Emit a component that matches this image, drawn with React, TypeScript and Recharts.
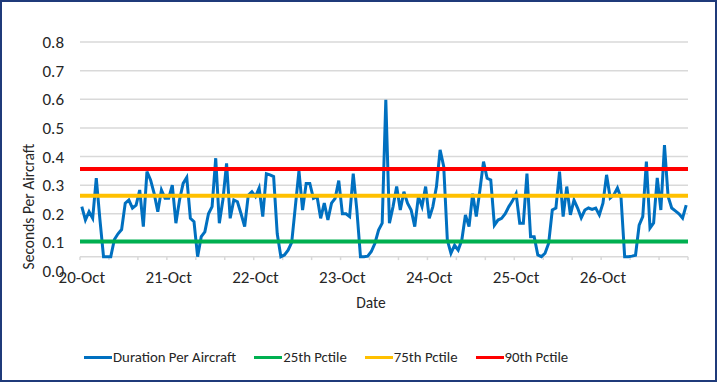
import React from "react";
import { LineChart, Line, XAxis, YAxis, CartesianGrid, ReferenceLine } from "recharts";

// Hourly duration per aircraft, 20-Oct 00:00 .. 26-Oct 23:00 (168 points)
const durations: number[] = [
  0.225, 0.178, 0.207, 0.184, 0.324, 0.18, 0.05, 0.05, 0.05, 0.11,
  0.13, 0.145, 0.237, 0.248, 0.22, 0.23, 0.283, 0.155, 0.347, 0.318,
  0.27, 0.207, 0.283, 0.254, 0.254, 0.3, 0.167, 0.248, 0.306, 0.327,
  0.184, 0.172, 0.05, 0.12, 0.137, 0.2, 0.225, 0.394, 0.167, 0.25,
  0.376, 0.184, 0.248, 0.242, 0.2, 0.155, 0.265, 0.277, 0.26, 0.29,
  0.19, 0.34, 0.336, 0.33, 0.13, 0.05, 0.056, 0.073, 0.1, 0.225,
  0.35, 0.213, 0.306, 0.306, 0.254, 0.26, 0.184, 0.237, 0.178, 0.237,
  0.254, 0.316, 0.2, 0.2, 0.19, 0.34, 0.213, 0.05, 0.05, 0.052,
  0.068, 0.097, 0.143, 0.167, 0.598, 0.167, 0.225, 0.295, 0.213, 0.277,
  0.237, 0.213, 0.155, 0.26, 0.225, 0.295, 0.184, 0.225, 0.295, 0.423,
  0.365, 0.108, 0.062, 0.09, 0.073, 0.108, 0.196, 0.155, 0.27, 0.19,
  0.283, 0.382, 0.324, 0.318, 0.16, 0.178, 0.184, 0.2, 0.225, 0.245,
  0.27, 0.167, 0.167, 0.34, 0.12, 0.12, 0.056, 0.05, 0.062, 0.097,
  0.213, 0.22, 0.347, 0.19, 0.295, 0.196, 0.248, 0.22, 0.186, 0.213,
  0.22, 0.215, 0.22, 0.196, 0.237, 0.336, 0.255, 0.266, 0.29, 0.255,
  0.05, 0.05, 0.052, 0.055, 0.16, 0.19, 0.382, 0.15, 0.168, 0.325,
  0.213, 0.44, 0.26, 0.22, 0.21, 0.2, 0.185, 0.23,
];

const dateLabels: string[] = ["20-Oct", "21-Oct", "22-Oct", "23-Oct", "24-Oct", "25-Oct", "26-Oct"];
const dateTickIndex: number[] = [0, 24, 48, 72, 96, 120, 144];
const minorTickIndex: number[] = Array.from({ length: 22 }, (_, k) => -0.5 + 8 * k);
const yTicks: number[] = [0, 0.1, 0.2, 0.3, 0.4, 0.5, 0.6, 0.7, 0.8];
const gridValues: number[] = [0.1, 0.2, 0.3, 0.4, 0.5, 0.6, 0.7, 0.8];

const P25 = 0.103;
const P75 = 0.263;
const P90 = 0.356;
const AXIS_CROSS = 0.05;

const series = [
  { name: "Duration Per Aircraft", color: "#0070c0" },
  { name: "25th Pctile", color: "#00b050" },
  { name: "75th Pctile", color: "#ffc000" },
  { name: "90th Pctile", color: "#ff0000" },
];

const data = durations.map((v, i) => ({ i, v }));

const FONT = "Carlito, Calibri, Lato, sans-serif";
const TEXT = "#262626";

const YTitle = (props: any) => {
  const vb = props.viewBox;
  const cx = vb.x + 28;
  const cy = vb.y + vb.height / 2 + 50;
  return (
    <text
      x={cx}
      y={cy}
      transform={`rotate(-90, ${cx}, ${cy})`}
      textAnchor="middle"
      dominantBaseline="central"
      fontFamily={FONT}
      fontSize={15.5}
      fill={TEXT}
    >
      Seconds Per Aircraft
    </text>
  );
};

const XTitle = (props: any) => {
  const vb = props.viewBox;
  return (
    <text
      x={vb.x + vb.width / 2 - 13}
      y={vb.y + 31}
      textAnchor="middle"
      dominantBaseline="central"
      fontFamily={FONT}
      fontSize={15.5}
      fill={TEXT}
    >
      Date
    </text>
  );
};

export default function App() {
  return (
    <div style={{ position: "absolute", left: 0, top: 0, width: 717, height: 382, background: "#fff" }}>
      <LineChart
        width={717}
        height={382}
        data={data}
        margin={{ top: 42, right: 29, bottom: 81, left: 0 }}
      >
        <CartesianGrid
          vertical={false}
          horizontalValues={gridValues}
          stroke="#d9d9d9"
          strokeWidth={1.5}
        />
        <XAxis
          dataKey="i"
          type="number"
          domain={[-0.5, 167.5]}
          ticks={dateTickIndex}
          tickFormatter={(v: number) => dateLabels[dateTickIndex.indexOf(v)]}
          interval={0}
          axisLine={false}
          tickLine={false}
          tickSize={0}
          tickMargin={0}
          height={30}
          tick={{ fontFamily: FONT, fontSize: 17, fill: TEXT }}
          label={{ content: XTitle }}
        />
        <YAxis
          type="number"
          domain={[0, 0.8]}
          ticks={yTicks}
          tickFormatter={(v: number) => v.toFixed(1)}
          axisLine={false}
          tickLine={false}
          tickSize={0}
          tickMargin={16}
          width={80}
          tick={{ fontFamily: FONT, fontSize: 17, fill: TEXT }}
          label={{ content: YTitle }}
        />
        <ReferenceLine y={AXIS_CROSS} stroke="#d9d9d9" strokeWidth={1.5} />
        {minorTickIndex.map((t) => (
          <ReferenceLine
            key={t}
            segment={[{ x: t, y: AXIS_CROSS }, { x: t, y: AXIS_CROSS - 0.012 }]}
            stroke="#d9d9d9"
            strokeWidth={1.5}
            ifOverflow="extendDomain"
          />
        ))}
        <Line
          dataKey="v"
          type="linear"
          stroke={series[0].color}
          strokeWidth={3}
          dot={false}
          activeDot={false}
          isAnimationActive={false}
        />
        <ReferenceLine y={P25} stroke={series[1].color} strokeWidth={4} />
        <ReferenceLine y={P75} stroke={series[2].color} strokeWidth={4} />
        <ReferenceLine y={P90} stroke={series[3].color} strokeWidth={4} />
      </LineChart>
      <div
        style={{
          position: "absolute",
          left: 84,
          top: 348,
          display: "flex",
          alignItems: "center",
          fontFamily: FONT,
          fontSize: 14.8,
          color: TEXT,
          whiteSpace: "nowrap",
        }}
      >
        {series.map((s) => (
          <div key={s.name} style={{ display: "flex", alignItems: "center", marginRight: 18 }}>
            <div style={{ width: 28, height: 3, background: s.color, marginRight: 1 }} />
            <span>{s.name}</span>
          </div>
        ))}
      </div>
      <div
        style={{
          position: "absolute",
          left: 0,
          top: 0,
          width: 717,
          height: 382,
          boxSizing: "border-box",
          border: "2px solid #1f3a7a",
          pointerEvents: "none",
        }}
      />
    </div>
  );
}
